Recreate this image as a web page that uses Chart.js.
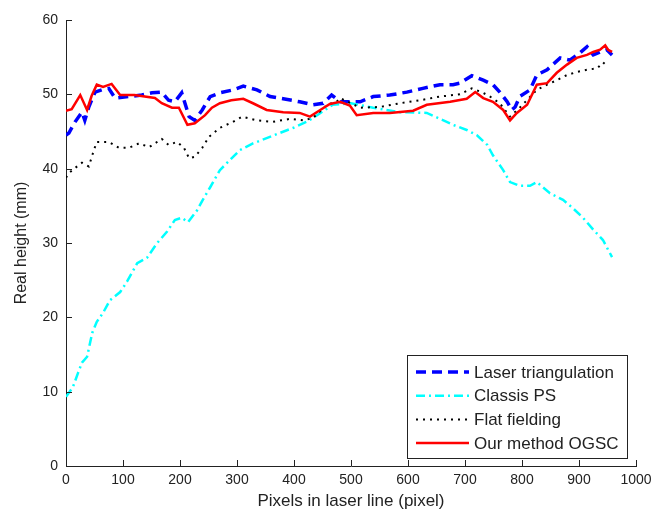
<!DOCTYPE html>
<html>
<head>
<meta charset="utf-8">
<script src="https://cdn.jsdelivr.net/npm/chart.js@4.4.0/dist/chart.umd.min.js"></script>
<style>
  body { margin: 0; background: #fff; }
  #wrap { width: 662px; height: 513px; }
</style>
</head>
<body>
<div id="wrap"><canvas id="heightChart"></canvas></div>
<script>
// values
const laserX = [0,5,16,28,33,40,51,63,75,86,110,133,151,168,180,191,203,216,226,239,253,270,293,311,335,358,381,410,433,451,466,481,492,516,539,568,598,626,656,679,691,712,732,749,761,774,782,788,796,814,826,844,867,884,902,914,925,937,949,958];
const laserY = [44.5,44.8,46.3,47.6,46.5,48.3,50.3,50.6,50.8,49.5,49.7,49.9,50.2,50.3,49.2,49.0,50.2,47.0,46.5,47.9,49.7,50.2,50.6,51.1,50.6,49.7,49.4,49.0,48.6,48.8,49.9,49.0,49.0,49.0,49.7,49.9,50.3,50.8,51.3,51.3,51.5,52.5,51.9,51.3,50.3,49.0,47.9,48.3,49.7,50.6,52.6,53.3,54.9,54.6,55.6,56.4,55.3,55.7,56.0,55.3];

const psX = [0,12,21,28,37,46,54,65,77,95,107,125,142,160,177,191,203,214,230,240,253,270,288,305,328,352,375,399,422,433,468,500,539,586,633,656,679,703,721,739,749,767,779,796,814,826,849,872,889,907,925,942,951,958];
const psY = [9.3,10.6,12.5,13.9,14.7,17.9,19.4,20.6,22.3,23.4,24.8,27.3,28.0,30.0,31.5,33.1,33.4,32.8,34.4,35.8,37.5,39.8,41.2,42.5,43.4,44.1,44.8,45.5,46.3,46.8,48.6,48.8,48.2,47.6,47.5,46.7,45.9,45.2,44.5,43.2,41.8,39.8,38.2,37.7,37.7,38.2,36.7,35.8,34.7,33.4,31.8,30.4,29.1,28.1];

const flatX = [0,5,16,28,40,49,54,75,93,110,128,146,168,180,195,207,216,226,239,251,270,293,309,335,363,393,416,433,458,475,481,516,551,586,621,656,691,712,732,744,761,779,796,826,844,861,879,896,914,932,942,951];
const flatY = [38.8,39.4,40.1,40.8,40.3,42.5,43.6,43.6,42.8,42.8,43.4,42.9,44.0,43.2,43.6,42.8,41.4,41.6,42.8,44.3,45.5,46.3,47.0,46.5,46.3,46.7,46.5,46.8,48.6,49.0,49.5,48.2,48.3,48.8,49.2,49.7,50.0,50.8,50.2,49.7,48.8,47.0,48.2,50.6,51.3,51.9,52.6,53.0,53.3,53.5,54.3,53.7];

const ogscX = [0,10,25,37,45,54,65,80,95,120,156,168,186,198,213,226,244,256,270,290,311,328,352,381,410,428,446,463,481,498,510,539,568,609,633,674,703,718,732,749,767,779,791,809,826,844,861,879,896,914,925,937,946,951,958];
const ogscY = [47.8,48.0,49.9,47.9,49.8,51.3,51.0,51.4,49.9,49.9,49.5,48.8,48.2,48.2,45.9,46.1,47.2,48.2,48.8,49.2,49.4,48.8,47.9,47.6,47.5,47.0,47.9,48.7,49.0,48.5,47.2,47.5,47.5,47.8,48.6,49.0,49.4,50.3,49.5,49.0,47.9,46.5,47.5,48.6,51.3,51.5,52.9,54.0,54.9,55.3,55.7,56.0,56.6,56.0,55.7];

const seriesNames = ['Laser triangulation', 'Classis PS', 'Flat fielding', 'Our method OGSC'];

function pts(xs, ys){
    return xs.map((x, i) => ({x: x, y: ys[i]}));
}

const FONT = '"Liberation Sans", Arial, sans-serif';

// MATLAB style ticks pointing into the plot
const innerTicks = {
    id: 'innerTicks',
    afterDraw(chart){
        const ctx = chart.ctx;
        const xs = chart.scales.x, ys = chart.scales.y;
        ctx.save();
        ctx.strokeStyle = '#222';
        ctx.lineWidth = 1;
        ctx.beginPath();
        xs.ticks.forEach(t => {
            const px = Math.round(xs.getPixelForValue(t.value)) + 0.5;
            ctx.moveTo(px, ys.bottom);
            ctx.lineTo(px, ys.bottom - 6);
        });
        ys.ticks.forEach(t => {
            const py = Math.round(ys.getPixelForValue(t.value)) + 0.5;
            ctx.moveTo(xs.left, py);
            ctx.lineTo(xs.left + 6, py);
        });
        ctx.stroke();
        ctx.restore();
    }
};

// boxed legend in the lower right corner of the axes
const boxLegend = {
    id: 'boxLegend',
    afterDraw(chart){
        const ctx = chart.ctx;
        const left = 407.5, top = 355.5, w = 220, h = 103;
        ctx.save();
        ctx.fillStyle = '#fff';
        ctx.fillRect(left, top, w, h);
        ctx.strokeStyle = '#222';
        ctx.lineWidth = 1;
        ctx.strokeRect(left, top, w, h);
        ctx.font = '17px ' + FONT;
        ctx.textBaseline = 'middle';
        chart.data.datasets.forEach((ds, i) => {
            const y = 372 + i * 23.7;
            ctx.strokeStyle = ds.borderColor;
            ctx.lineWidth = ds.borderWidth;
            ctx.setLineDash(ds.borderDash || []);
            ctx.beginPath();
            ctx.moveTo(416, y);
            ctx.lineTo(469, y);
            ctx.stroke();
            ctx.setLineDash([]);
            ctx.fillStyle = '#222';
            ctx.fillText(ds.label, 474, y + 1);
        });
        ctx.restore();
    }
};

const ctx = document.getElementById('heightChart');
new Chart(ctx, {
    type: 'line',
    data: {
        datasets: [
        {
            label: seriesNames[0],
            data: pts(laserX, laserY),
            borderColor: '#0000ff',
            borderWidth: 3.5,
            borderDash: [10, 6],
            order: 3,
        },
        {
            label: seriesNames[1],
            data: pts(psX, psY),
            borderColor: '#00ffff',
            borderWidth: 2.5,
            borderDash: [9, 4, 2, 4],
            order: 2,
        },
        {
            label: seriesNames[2],
            data: pts(flatX, flatY),
            borderColor: '#000000',
            borderWidth: 2,
            borderDash: [2, 5],
            order: 1,
        },
        {
            label: seriesNames[3],
            data: pts(ogscX, ogscY),
            borderColor: '#ff0000',
            borderWidth: 2.5,
            order: 0,
        }
        ]
    },
    options: {
        responsive: true,
        maintainAspectRatio: false,
        animation: false,
        layout: {
            padding: {left: 0, right: 26, top: 20, bottom: 0}
        },
        elements: {
            point: {radius: 0},
            line: {tension: 0, fill: false}
        },
        scales: {
            x: {
                type: 'linear',
                min: 0,
                max: 1000,
                afterFit: s => { s.height = 47; },
                grid: {drawOnChartArea: false, drawTicks: false},
                border: {display: true, color: '#222', width: 1},
                ticks: {
                    stepSize: 100,
                    padding: 6,
                    color: '#222',
                    font: {family: FONT, size: 14},
                    maxRotation: 0,
                    callback: v => String(v),
                },
                title: {
                    display: true,
                    text: 'Pixels in laser line (pixel)',
                    color: '#222',
                    font: {family: FONT, size: 17},
                    padding: {top: 1, bottom: 1},
                }
            },
            y: {
                min: 0,
                max: 60,
                afterFit: s => { s.width = 66; },
                grid: {drawOnChartArea: false, drawTicks: false},
                border: {display: true, color: '#222', width: 1},
                ticks: {
                    stepSize: 10,
                    padding: 8,
                    color: '#222',
                    font: {family: FONT, size: 14},
                    callback: v => String(v),
                },
                title: {
                    display: true,
                    text: 'Real height (mm)',
                    color: '#222',
                    font: {family: FONT, size: 16},
                    padding: {top: 12, bottom: 0},
                }
            }
        },
        plugins: {
            legend: {display: false},
            tooltip: {enabled: false}
        }
    },
    plugins: [innerTicks, boxLegend]
});
</script>
</body>
</html>
